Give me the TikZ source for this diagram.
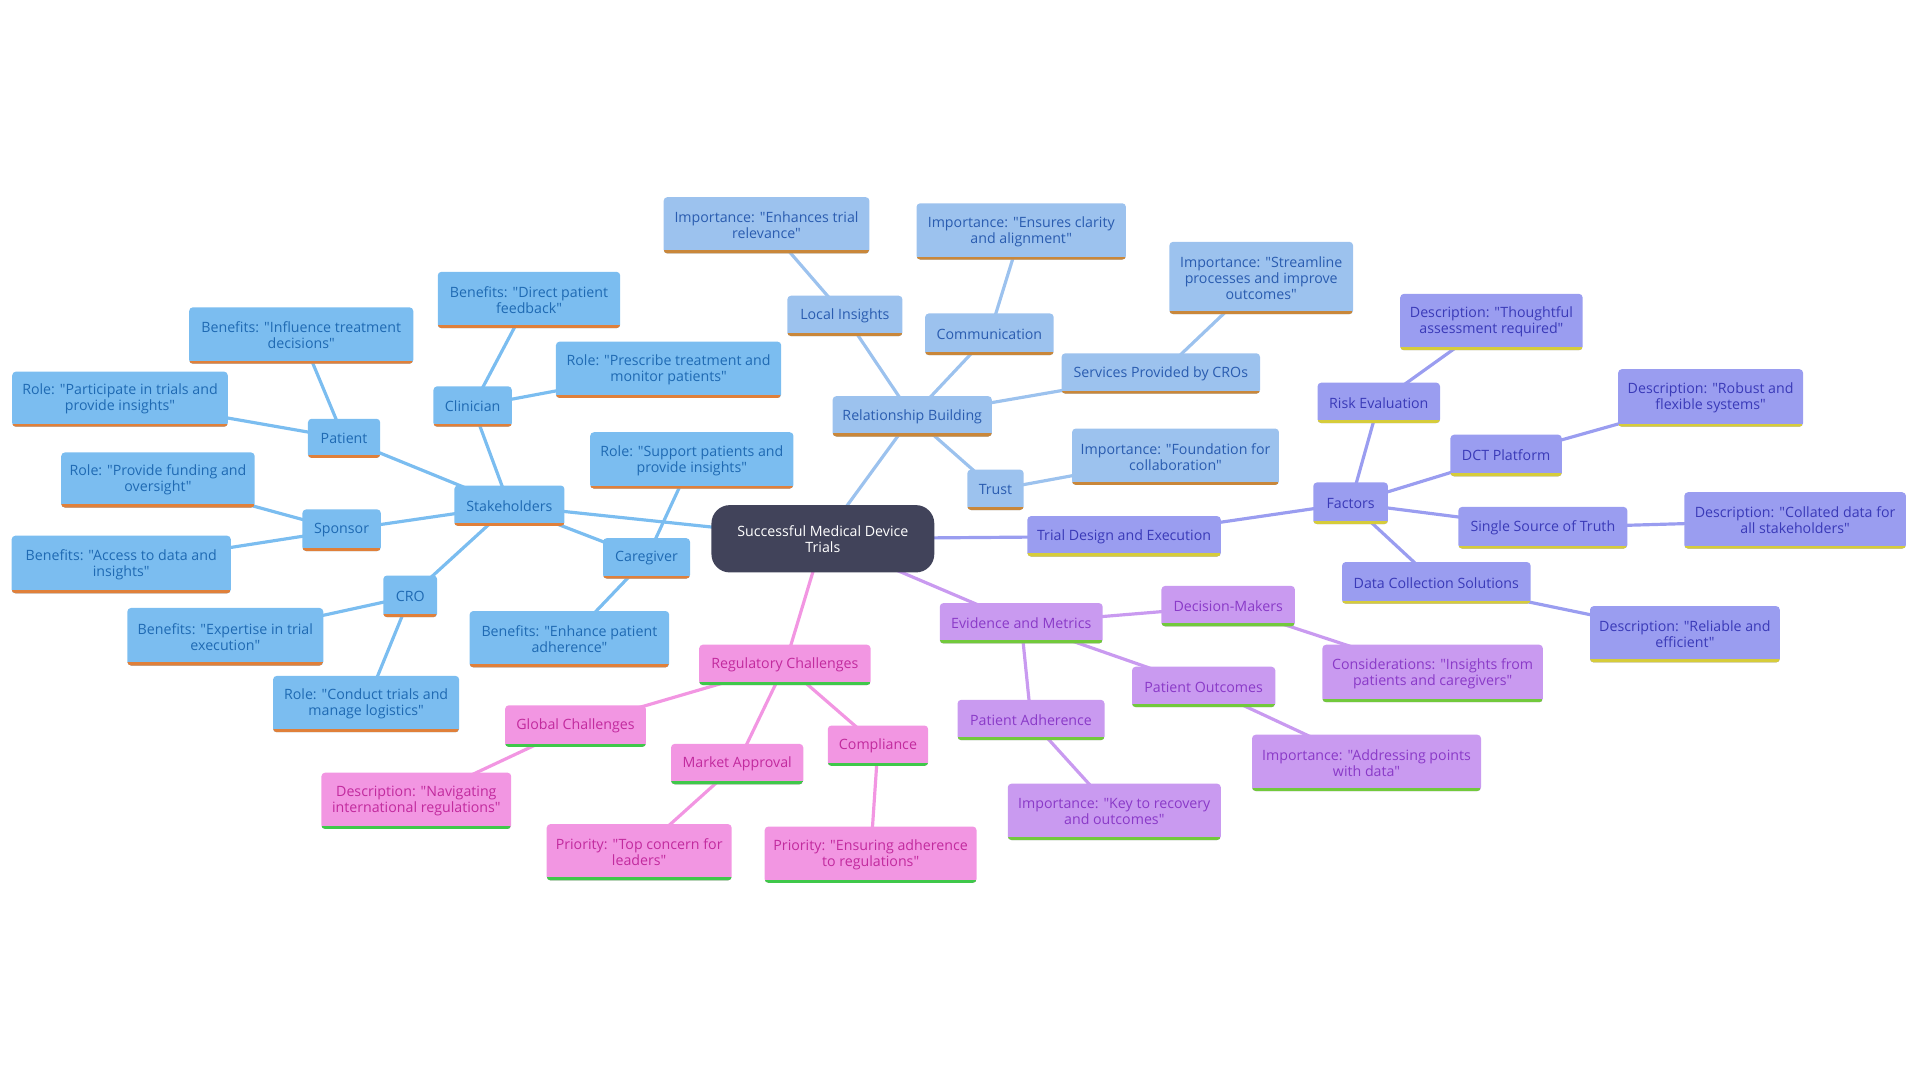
\documentclass[tikz,border=0pt]{standalone}
\usepackage{fontspec}
\setmainfont{Open Sans}[Ligatures=TeXOff]
\usetikzlibrary{backgrounds}
\definecolor{shfill}{HTML}{7BBDF0}
\definecolor{shtext}{HTML}{1F6AB3}
\definecolor{shline}{HTML}{E0803A}
\definecolor{rbfill}{HTML}{9CC2EE}
\definecolor{rbtext}{HTML}{2A5CB0}
\definecolor{rbline}{HTML}{C9873A}
\definecolor{tdfill}{HTML}{9A9DF0}
\definecolor{tdtext}{HTML}{3A3AB8}
\definecolor{tdline}{HTML}{D6CC3A}
\definecolor{evfill}{HTML}{C99AF0}
\definecolor{evtext}{HTML}{8A3AC8}
\definecolor{evline}{HTML}{72C93C}
\definecolor{rgfill}{HTML}{F296E2}
\definecolor{rgtext}{HTML}{C22A9E}
\definecolor{rgline}{HTML}{3FC84A}
\definecolor{rootfill}{HTML}{41435A}
\tikzset{
  base/.style={rectangle, rounded corners=3pt, inner sep=2pt, align=center,
    font=\fontsize{11.6}{13}\selectfont},
  mk/.style 2 args={base, fill=#1fill, text=#1text,
    path picture={\draw[line width=5pt, #1line] (path picture bounding box.south west) -- (path picture bounding box.south east);}},
  sh/.style={mk={sh}{}},
  rb/.style={mk={rb}{}},
  td/.style={mk={td}{}},
  ev/.style={mk={ev}{}},
  rg/.style={mk={rg}{}},
  root/.style={rectangle, rounded corners=15pt, fill=rootfill, text=white, align=center,
    font=\fontsize{11.6}{13}\selectfont},
  sz/.style 2 args={minimum width=#1pt, minimum height=#2pt},
  eline/.style={line width=2.6pt, color=#1fill},
}
\begin{document}
\begin{tikzpicture}[x=1pt,y=-1pt]
\useasboundingbox (0,0) rectangle (1568,882);
% root
\node[root, sz={182}{55}] (c0) at (672,440) {Successful Medical Device\\Trials};
% stakeholders
\node[sh, sz={90}{33}] (sh) at (416,413) {Stakeholders};
\node[sh, sz={59}{32}] (pat) at (281,358) {Patient};
\node[sh, sz={183}{46}] (patb) at (246,274) {Benefits: "Influence treatment\\decisions"};
\node[sh, sz={176}{45}] (patr) at (98,326) {Role: "Participate in trials and\\provide insights"};
\node[sh, sz={64}{33}] (cli) at (386,332) {Clinician};
\node[sh, sz={149}{46}] (clib) at (432,245) {Benefits: "Direct patient\\feedback"};
\node[sh, sz={184}{46}] (clir) at (546,302) {Role: "Prescribe treatment and\\monitor patients"};
\node[sh, sz={64}{34}] (spo) at (279,433) {Sponsor};
\node[sh, sz={158}{45}] (spor) at (129,392) {Role: "Provide funding and\\oversight"};
\node[sh, sz={179}{47}] (spob) at (99,461) {Benefits: "Access to data and\\insights"};
\node[sh, sz={44}{34}] (cro) at (335,487) {CRO};
\node[sh, sz={160}{47}] (crob) at (184,520) {Benefits: "Expertise in trial\\execution"};
\node[sh, sz={152}{46}] (cror) at (299,575) {Role: "Conduct trials and\\manage logistics"};
\node[sh, sz={71}{33}] (car) at (528,456) {Caregiver};
\node[sh, sz={166}{46}] (carr) at (565,376) {Role: "Support patients and\\provide insights"};
\node[sh, sz={163}{46}] (carb) at (465,522) {Benefits: "Enhance patient\\adherence"};
% relationship building
\node[rb, sz={130}{33}] (rel) at (745,340) {Relationship Building};
\node[rb, sz={94}{33}] (loc) at (690,258) {Local Insights};
\node[rb, sz={168}{46}] (loci) at (626,184) {Importance: "Enhances trial\\relevance"};
\node[rb, sz={105}{34}] (com) at (808,273) {Communication};
\node[rb, sz={171}{46}] (comi) at (834,189) {Importance: "Ensures clarity\\and alignment"};
\node[rb, sz={162}{33}] (srv) at (948,305) {Services Provided by CROs};
\node[rb, sz={150}{59}] (srvi) at (1030,227) {Importance: "Streamline\\processes and improve\\outcomes"};
\node[rb, sz={46}{33}] (tru) at (813,400) {Trust};
\node[rb, sz={169}{46}] (trui) at (960,373) {Importance: "Foundation for\\collaboration"};
% trial design
\node[td, sz={158}{33}] (tde) at (918,438) {Trial Design and Execution};
\node[td, sz={61}{34}] (fac) at (1103,411) {Factors};
\node[td, sz={100}{33}] (risk) at (1126,329) {Risk Evaluation};
\node[td, sz={149}{46}] (riskd) at (1218,263) {Description: "Thoughtful\\assessment required"};
\node[td, sz={91}{34}] (dct) at (1230,372) {DCT Platform};
\node[td, sz={151}{47}] (dctd) at (1397,325) {Description: "Robust and\\flexible systems"};
\node[td, sz={138}{34}] (sst) at (1260,431) {Single Source of Truth};
\node[td, sz={181}{46}] (sstd) at (1466,425) {Description: "Collated data for\\all stakeholders"};
\node[td, sz={154}{34}] (dcs) at (1173,476) {Data Collection Solutions};
\node[td, sz={155}{46}] (dcsd) at (1376,518) {Description: "Reliable and\\efficient"};
% evidence
\node[ev, sz={133}{33}] (evm) at (834,509) {Evidence and Metrics};
\node[ev, sz={109}{33}] (dm) at (1003,495) {Decision-Makers};
\node[ev, sz={180}{47}] (dmc) at (1170,550) {Considerations: "Insights from\\patients and caregivers"};
\node[ev, sz={117}{33}] (po) at (983,561) {Patient Outcomes};
\node[ev, sz={187}{46}] (poi) at (1116,623) {Importance: "Addressing points\\with data"};
\node[ev, sz={120}{33}] (pa) at (842,588) {Patient Adherence};
\node[ev, sz={174}{46}] (pai) at (910,663) {Importance: "Key to recovery\\and outcomes"};
% regulatory
\node[rg, sz={140}{33}] (reg) at (641,543) {Regulatory Challenges};
\node[rg, sz={115}{34}] (glo) at (470,593) {Global Challenges};
\node[rg, sz={155}{46}] (glod) at (340,654) {Description: "Navigating\\international regulations"};
\node[rg, sz={108}{33}] (mkt) at (602,624) {Market Approval};
\node[rg, sz={151}{46}] (mktp) at (522,696) {Priority: "Top concern for\\leaders"};
\node[rg, sz={82}{33}] (cmp) at (717,609) {Compliance};
\node[rg, sz={173}{46}] (cmpp) at (711,698) {Priority: "Ensuring adherence\\to regulations"};
% edges
\begin{scope}[on background layer]
\draw[eline=sh] (c0.center) -- (sh.center);
\draw[eline=sh] (sh.center) -- (pat.center);
\draw[eline=sh] (pat.center) -- (patb.center);
\draw[eline=sh] (pat.center) -- (patr.center);
\draw[eline=sh] (sh.center) -- (cli.center);
\draw[eline=sh] (cli.center) -- (clib.center);
\draw[eline=sh] (cli.center) -- (clir.center);
\draw[eline=sh] (sh.center) -- (spo.center);
\draw[eline=sh] (spo.center) -- (spor.center);
\draw[eline=sh] (spo.center) -- (spob.center);
\draw[eline=sh] (sh.center) -- (cro.center);
\draw[eline=sh] (cro.center) -- (crob.center);
\draw[eline=sh] (cro.center) -- (cror.center);
\draw[eline=sh] (sh.center) -- (car.center);
\draw[eline=sh] (car.center) -- (carr.center);
\draw[eline=sh] (car.center) -- (carb.center);
\draw[eline=rb] (c0.center) -- (rel.center);
\draw[eline=rb] (rel.center) -- (loc.center);
\draw[eline=rb] (loc.center) -- (loci.center);
\draw[eline=rb] (rel.center) -- (com.center);
\draw[eline=rb] (com.center) -- (comi.center);
\draw[eline=rb] (rel.center) -- (srv.center);
\draw[eline=rb] (srv.center) -- (srvi.center);
\draw[eline=rb] (rel.center) -- (tru.center);
\draw[eline=rb] (tru.center) -- (trui.center);
\draw[eline=td] (c0.center) -- (tde.center);
\draw[eline=td] (tde.center) -- (fac.center);
\draw[eline=td] (fac.center) -- (risk.center);
\draw[eline=td] (risk.center) -- (riskd.center);
\draw[eline=td] (fac.center) -- (dct.center);
\draw[eline=td] (dct.center) -- (dctd.center);
\draw[eline=td] (fac.center) -- (sst.center);
\draw[eline=td] (sst.center) -- (sstd.center);
\draw[eline=td] (fac.center) -- (dcs.center);
\draw[eline=td] (dcs.center) -- (dcsd.center);
\draw[eline=ev] (c0.center) -- (evm.center);
\draw[eline=ev] (evm.center) -- (dm.center);
\draw[eline=ev] (dm.center) -- (dmc.center);
\draw[eline=ev] (evm.center) -- (po.center);
\draw[eline=ev] (po.center) -- (poi.center);
\draw[eline=ev] (evm.center) -- (pa.center);
\draw[eline=ev] (pa.center) -- (pai.center);
\draw[eline=rg] (c0.center) -- (reg.center);
\draw[eline=rg] (reg.center) -- (glo.center);
\draw[eline=rg] (glo.center) -- (glod.center);
\draw[eline=rg] (reg.center) -- (mkt.center);
\draw[eline=rg] (mkt.center) -- (mktp.center);
\draw[eline=rg] (reg.center) -- (cmp.center);
\draw[eline=rg] (cmp.center) -- (cmpp.center);
\end{scope}
\end{tikzpicture}
\end{document}
